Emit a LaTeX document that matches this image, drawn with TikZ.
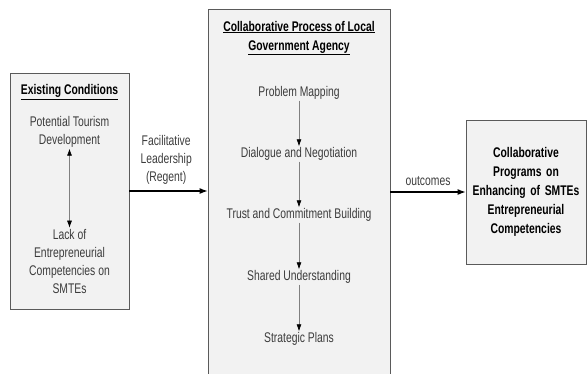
\documentclass[tikz,border=0pt]{standalone}
\usepackage{fontspec}
\setmainfont{Liberation Sans}[FakeStretch=0.74]
\usepackage{tikz}
\usetikzlibrary{arrows.meta,positioning,shadows}
\definecolor{boxfill}{RGB}{242,242,242}
\definecolor{txtgray}{RGB}{60,60,60}
\definecolor{edgegray}{RGB}{90,90,90}

\begin{document}
\begin{tikzpicture}[x=1pt, y=-1pt,
  panel/.style={rectangle, draw=edgegray, line width=0.8pt, fill=boxfill, inner sep=0pt,
    drop shadow={shadow xshift=1.2pt, shadow yshift=-1.2pt, fill=black, opacity=1}},
  item/.style={font=\fontsize{14}{18}\selectfont, text=txtgray, align=center, inner sep=1pt},
  head/.style={font=\fontsize{14}{19}\selectfont\bfseries, align=center, inner sep=1pt},
  arrow/.style={-{Latex[length=8pt,width=6pt]}, line width=1.1pt},
  step arrow/.style={-{Latex[length=7pt,width=5pt,black]}, draw=gray, line width=0.6pt},
  link arrow/.style={{Latex[length=7pt,width=5pt,black]}-{Latex[length=7pt,width=5pt,black]}, draw=gray, line width=0.6pt}
]
  \useasboundingbox (0,0) rectangle (587,373);

  % boxes
  \node[panel, minimum width=119pt, minimum height=236pt] (condbox) at (69.5,191) {};
  \node[panel, minimum width=182pt, minimum height=380pt] (procbox) at (299,199) {};
  \node[panel, minimum width=120pt, minimum height=144pt] (outbox) at (526,192) {};

  % existing conditions
  \node[head] (condtitle) at (69.5,92) {\underline{Existing Conditions}};
  \node[item] (tourism) at (69.5,132) {Potential Tourism\\Development};
  \node[item] (lack) at (69.5,261) {Lack of\\Entrepreneurial\\Competencies on\\SMTEs};
  \draw[link arrow] (tourism) -- (lack);

  % collaborative process
  \node[head] (proctitle) at (299,38) {\underline{Collaborative Process of Local}\\\underline{Government Agency}};
  \node[item] (mapping) at (299,93) {Problem Mapping};
  \node[item] (dialogue) at (299,154) {Dialogue and Negotiation};
  \node[item] (trust) at (299,215) {Trust and Commitment Building};
  \node[item] (shared) at (299,277) {Shared Understanding};
  \node[item] (plans) at (299,339) {Strategic Plans};
  \draw[step arrow] (mapping) -- (dialogue);
  \draw[step arrow] (dialogue) -- (trust);
  \draw[step arrow] (trust) -- (shared);
  \draw[step arrow] (shared) -- (plans);

  % outcomes
  \node[head, text width=118pt] (outtitle) at (526,192) {Collaborative\\Programs on\\Enhancing of SMTEs\\Entrepreneurial\\Competencies};

  % connectors between boxes
  \draw[arrow] (condbox.east) -- node[item, above=5pt, pos=0.47]{Facilitative\\Leadership\\(Regent)} (condbox.east -| procbox.west);
  \draw[arrow] (procbox.east |- outbox.west) -- node[item, above=5pt]{outcomes} (outbox.west);
\end{tikzpicture}
\end{document}
